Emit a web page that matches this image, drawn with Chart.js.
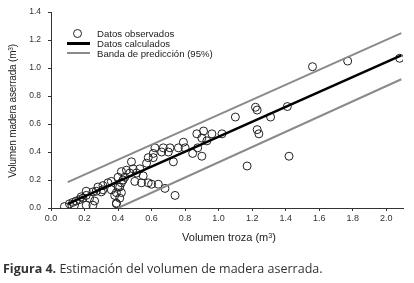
<!DOCTYPE html>
<html>
<head>
<meta charset="utf-8">
<script src="https://cdn.jsdelivr.net/npm/chart.js@4.4.1/dist/chart.umd.min.js"></script>
<style>
  html, body { margin: 0; padding: 0; background: #fff; }
  #wrap { position: relative; width: 414px; height: 283px; overflow: hidden; }
  #c { position: absolute; left: 0; top: 0; }
  .txt { position: absolute; font-family: "Liberation Sans", Arial, sans-serif; color: #222; white-space: nowrap; }
  sup { font-size: 65%; vertical-align: 0; position: relative; top: -0.45em; }
  #ytitle { left: 12px; top: 111px; font-size: 10px; transform: translate(-50%, -50%) rotate(-90deg); letter-spacing: -0.2px; }
  #xtitle { left: 229px; top: 237px; font-size: 11px; transform: translate(-50%, -50%); }
  .leg { font-size: 9.6px; left: 97px; transform: translateY(-50%); }
  #caption { left: 3px; top: 268px; transform: translateY(-50%); font-family: "Open Sans", "Noto Sans", sans-serif; font-size: 12.5px; color: #333; }
  #caption b { font-weight: 700; color: #333; }
  .sym { position: absolute; }
</style>
</head>
<body>
<div id="wrap">
  <canvas id="c" width="414" height="283"></canvas>
  <div class="txt" id="ytitle">Volumen madera aserrada (m<sup>3</sup>)</div>
  <div class="txt" id="xtitle">Volumen troza (m<sup>3</sup>)</div>
  <div class="sym" style="left:73px;top:29px;width:7px;height:7px;border:1px solid #222;border-radius:50%;"></div>
  <div class="sym" style="left:67px;top:42px;width:23px;height:3px;background:#000;"></div>
  <div class="sym" style="left:67px;top:52px;width:23px;height:1.5px;background:#8a8a8a;"></div>
  <div class="txt leg" style="top:33px;">Datos observados</div>
  <div class="txt leg" style="top:43px;">Datos calculados</div>
  <div class="txt leg" style="top:52.5px;">Banda de predicción (95%)</div>
  <div class="txt" id="caption"><b>Figura 4.</b> Estimación del volumen de madera aserrada.</div>
</div>
<script>
// Observed data: volumen troza (x) and volumen madera aserrada (y), m3
const obsX = [0.08,0.11,0.13,0.15,0.17,0.19,0.21,0.14,0.21,0.25,0.26,0.23,0.25,0.21,0.28,0.31,0.34,0.30,0.31,0.36,0.38,0.40,0.39,0.41,0.42,0.44,0.45,0.36,0.27,0.18,0.39,
  0.40,0.42,0.43,0.41,0.42,0.39,0.47,0.48,0.49,0.50,0.51,0.53,0.55,0.54,0.57,0.58,0.61,0.58,0.60,0.64,0.68,0.74,0.61,0.62,0.66,0.67,0.70,0.71,0.73,0.76,0.79,0.80,0.845,0.875,0.90,0.87,0.91,0.90,0.93,0.96,1.02,
  1.10,1.22,1.23,1.31,1.23,1.24,1.41,1.42,1.17,1.56,1.77,2.08];
const obsY = [0.01,0.03,0.04,0.05,0.06,0.07,0.09,0.02,0.02,0.02,0.05,0.07,0.115,0.12,0.15,0.16,0.18,0.115,0.13,0.13,0.09,0.15,0.035,0.07,0.18,0.22,0.27,0.19,0.12,0.08,0.11,
  0.22,0.26,0.20,0.15,0.11,0.03,0.25,0.33,0.28,0.19,0.25,0.28,0.23,0.18,0.32,0.36,0.36,0.18,0.17,0.17,0.14,0.09,0.39,0.43,0.40,0.43,0.40,0.43,0.33,0.43,0.47,0.43,0.39,0.43,0.37,0.53,0.55,0.50,0.48,0.53,0.53,
  0.65,0.72,0.70,0.65,0.56,0.53,0.725,0.37,0.30,1.01,1.05,1.07];
// Fitted line and 95% prediction band (end points)
const fitX = [0.10, 2.09];
const fitY = [0.03, 1.09];
const upperX = [0.10, 2.09];
const upperY = [0.185, 1.25];
const lowerX = [0.40, 2.09];
const lowerY = [0.0, 0.92];
const xTicks = [0.0,0.2,0.4,0.6,0.8,1.0,1.2,1.4,1.6,1.8,2.0];
const yTicks = [0.0,0.2,0.4,0.6,0.8,1.0,1.2,1.4];

const pts = (xs, ys) => xs.map((x, i) => ({ x: x, y: ys[i] }));

new Chart(document.getElementById('c'), {
  type: 'scatter',
  data: {
    datasets: [
      { label: 'Datos calculados', data: pts(fitX, fitY), showLine: true, borderColor: '#000', borderWidth: 2.5, pointRadius: 0, fill: false },
      { label: 'Banda superior', data: pts(upperX, upperY), showLine: true, borderColor: '#8a8a8a', borderWidth: 2, pointRadius: 0, fill: false },
      { label: 'Banda inferior', data: pts(lowerX, lowerY), showLine: true, borderColor: '#8a8a8a', borderWidth: 2, pointRadius: 0, fill: false },
      { label: 'Datos observados', data: pts(obsX, obsY), showLine: false, pointRadius: 4, pointBorderColor: '#222', pointBackgroundColor: 'rgba(0,0,0,0)', pointBorderWidth: 1 }
    ]
  },
  options: {
    responsive: false,
    animation: false,
    events: [],
    layout: { padding: { top: 11, right: 11, left: 0, bottom: 0 } },
    plugins: { legend: { display: false }, tooltip: { enabled: false } },
    scales: {
      x: {
        type: 'linear', min: 0, max: 2.1,
        afterBuildTicks: s => { s.ticks = xTicks.map(v => ({ value: v })); },
        afterFit: s => { s.height = 75; },
        grid: { drawOnChartArea: false, drawTicks: true, tickLength: 3, color: '#333', lineWidth: 1 },
        border: { display: true, color: '#333', width: 1 },
        ticks: { padding: 2, color: '#333', font: { family: 'Liberation Sans', size: 9 }, maxRotation: 0, autoSkip: false,
          callback: v => Number(v).toFixed(1) }
      },
      y: {
        type: 'linear', min: 0, max: 1.4,
        afterBuildTicks: s => { s.ticks = yTicks.map(v => ({ value: v })); },
        afterFit: s => { s.width = 51; },
        grid: { drawOnChartArea: false, drawTicks: true, tickLength: 3, color: '#333', lineWidth: 1 },
        border: { display: true, color: '#333', width: 1 },
        ticks: { padding: 7, color: '#333', font: { family: 'Liberation Sans', size: 8.5 }, autoSkip: false,
          callback: v => Number(v).toFixed(1) }
      }
    }
  }
});
</script>
</body>
</html>
